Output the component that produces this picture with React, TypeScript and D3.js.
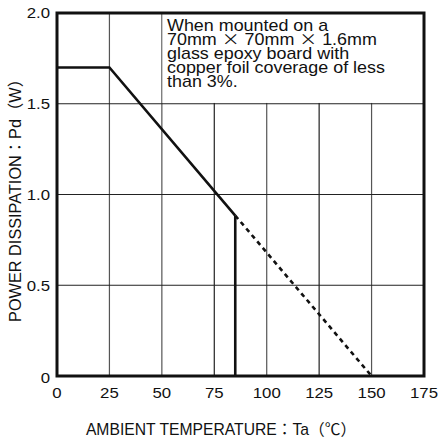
import React from "react";
import * as d3 from "d3";

const xTicks = [0, 25, 50, 75, 100, 125, 150, 175];
const yTicks = [0, 0.5, 1.0, 1.5, 2.0];
const yTickLabels = ["0", "0.5", "1.0", "1.5", "2.0"];
const solidTemps = [0, 25, 85];
const solidPower = [1.7, 1.7, 0.884];
const dashedTemps = [85, 150];
const dashedPower = [0.884, 0];
const cutoffTemp = 85;
const noteLines = [
  "When mounted on a",
  "70mm \u00D7 70mm \u00D7 1.6mm",
  "glass epoxy board with",
  "copper foil coverage of less",
  "than 3%.",
];
const xTitle = "AMBIENT TEMPERATURE\uFF1ATa\uFF08\u2103\uFF09";
const yTitle = "POWER DISSIPATION\uFF1APd\uFF08W\uFF09";

const W = 439;
const H = 440;
const FONT = "'Liberation Sans', Arial, 'Noto Sans CJK JP', sans-serif";
const CJK = "'Noto Sans CJK JP', 'Liberation Sans', sans-serif";

function renderNote(s: string) {
  const parts = s.split("\u00D7");
  const out: React.ReactNode[] = [];
  parts.forEach((p, i) => {
    out.push(<tspan key={"p" + i}>{p}</tspan>);
    if (i < parts.length - 1)
      out.push(
        <tspan key={"x" + i} fontFamily={CJK}>
          {"\u00D7"}
        </tspan>
      );
  });
  return out;
}

export default function App() {
  const x = d3.scaleLinear().domain([0, 175]).range([57, 424]);
  const y = d3.scaleLinear().domain([0, 2]).range([376, 13]);
  const line = d3
    .line<[number, number]>()
    .x((d) => x(d[0]))
    .y((d) => y(d[1]));
  const solid = solidTemps.map((t, i) => [t, solidPower[i]] as [number, number]);
  const dashed = dashedTemps.map((t, i) => [t, dashedPower[i]] as [number, number]);
  const cutoffPower = solidPower[solidPower.length - 1];

  return (
    <svg
      width={W}
      height={H}
      style={{ position: "absolute", left: 0, top: 0, background: "#fff" }}
      fontFamily={FONT}
    >
      <rect x={0} y={0} width={W} height={H} fill="#fff" />
      {/* grid */}
      {xTicks.slice(1, -1).map((t) => (
        <line
          key={"vx" + t}
          x1={x(t)}
          x2={x(t)}
          y1={y(0)}
          y2={y(2)}
          stroke={t === 75 || t === 125 ? "#222" : "#555"}
          strokeWidth={1.2}
        />
      ))}
      {yTicks.slice(1, -1).map((t) => (
        <line
          key={"hy" + t}
          x1={x(0)}
          x2={x(175)}
          y1={y(t)}
          y2={y(t)}
          stroke="#222"
          strokeWidth={1.2}
        />
      ))}
      {/* note box */}
      <rect
        x={x(50) + 0.8}
        y={y(2)}
        width={x(175) - x(50) - 0.8}
        height={y(1.5) - y(2) - 0.8}
        fill="#fff"
      />
      {noteLines.map((s, i) => (
        <text
          key={s}
          transform={`translate(167, ${31 + i * 13.9}) scale(1.12, 1)`}
          fontSize={16}
          fill="#111"
        >
          {renderNote(s)}
        </text>
      ))}
      {/* data */}
      <path d={line(solid) || ""} fill="none" stroke="#111" strokeWidth={2.6} strokeLinejoin="miter" />
      <path
        d={line(dashed) || ""}
        fill="none"
        stroke="#111"
        strokeWidth={2.6}
        strokeDasharray="4.5,4"
      />
      <line
        x1={x(cutoffTemp)}
        x2={x(cutoffTemp)}
        y1={y(cutoffPower)}
        y2={y(0)}
        stroke="#111"
        strokeWidth={2.6}
      />
      {/* frame */}
      <rect
        x={x(0)}
        y={y(2)}
        width={x(175) - x(0)}
        height={y(0) - y(2)}
        fill="none"
        stroke="#111"
        strokeWidth={3}
      />
      {/* tick labels */}
      {yTicks.map((t, i) => (
        <text
          key={"yl" + t}
          transform={`translate(50, ${y(t) + (t === 0 ? 2 : 0)}) scale(1.12, 1)`}
          dy="0.36em"
          textAnchor="end"
          fontSize={15}
          fill="#111"
        >
          {yTickLabels[i]}
        </text>
      ))}
      {xTicks.map((t) => (
        <text
          key={"xl" + t}
          transform={`translate(${x(t)}, 398) scale(1.12, 1)`}
          textAnchor="middle"
          fontSize={15}
          fill="#111"
        >
          {String(t)}
        </text>
      ))}
      {/* titles */}
      <text x={221} y={435} textAnchor="middle" fontSize={15.7} fill="#111">
        {xTitle}
      </text>
      <text
        transform={`translate(21, ${(y(0) + y(2)) / 2 + 2}) rotate(-90)`}
        textAnchor="middle"
        fontSize={16.3}
        fill="#111"
      >
        {yTitle}
      </text>
    </svg>
  );
}
